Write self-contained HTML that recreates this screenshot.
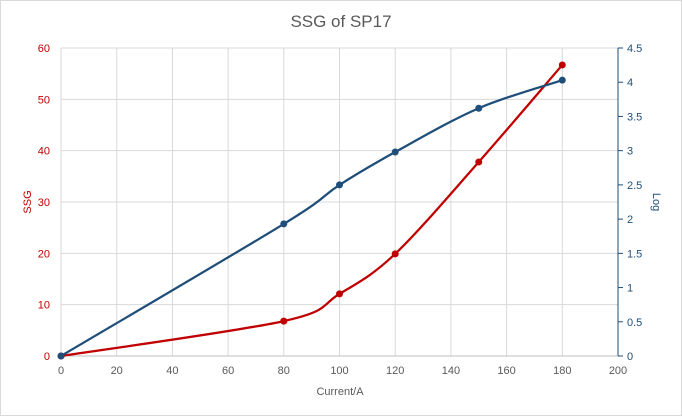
<!DOCTYPE html>
<html><head><meta charset="utf-8"><style>
html,body{margin:0;padding:0;background:#fff;}
svg{display:block;font-family:"Liberation Sans",sans-serif;}
</style></head><body>
<svg id="chart" width="682" height="416" viewBox="0 0 682 416">
<rect x="0.5" y="0.5" width="681" height="415" fill="#fff" stroke="#d9d9d9"/>
<text x="341" y="27" text-anchor="middle" font-size="17" fill="#595959">SSG of SP17</text>
<g id="grid"></g><g id="axes"></g><g id="series"></g>
<text x="340" y="395" text-anchor="middle" font-size="11" fill="#595959">Current/A</text>
<text transform="translate(31,202) rotate(-90)" text-anchor="middle" font-size="11" fill="#c00000">SSG</text>
<text transform="translate(653,202) rotate(90)" text-anchor="middle" font-size="11" fill="#1f4e79">Log</text>
</svg>
<script>
const xCats=[0,80,100,120,150,180];
const ssgValues=[0,6.8,12.1,19.9,37.8,56.7];
const logValues=[0,1.93,2.5,2.98,3.62,4.03];
const xTicks=[0,20,40,60,80,100,120,140,160,180,200];
const leftTicks=[0,10,20,30,40,50,60];
const rightTicks=[0,0.5,1,1.5,2,2.5,3,3.5,4,4.5];
const NS="http://www.w3.org/2000/svg";
const X0=61,X1=618,Y0=356,Y1=48;
const sx=v=>X0+(v-0)/200*(X1-X0);
const syL=v=>Y0-v/60*(Y0-Y1);
const syR=v=>Y0-v/4.5*(Y0-Y1);
function mk(t,a,p){const e=document.createElementNS(NS,t);for(const k in a)e.setAttribute(k,a[k]);p.appendChild(e);return e;}
const grid=document.getElementById('grid'),axes=document.getElementById('axes'),ser=document.getElementById('series');
xTicks.forEach(v=>{const l=mk('line',{x1:sx(v),x2:sx(v),y1:Y1,y2:Y0,stroke:'#d9d9d9'},grid);

const t=mk('text',{x:sx(v),y:Y0+18,'text-anchor':'middle','font-size':11,fill:'#595959'},axes);t.textContent=v;
});
leftTicks.forEach(v=>{const l=mk('line',{x1:X0,x2:X1,y1:syL(v),y2:syL(v),stroke:'#d9d9d9'},grid);

const t=mk('text',{x:X0-11,y:syL(v)+4,'text-anchor':'end','font-size':11,fill:'#c00000'},axes);t.textContent=v;
});
const xa=mk('line',{x1:X0,x2:X1,y1:Y0,y2:Y0,stroke:'#bfbfbf'},axes);

const ra=mk('line',{x1:X1,x2:X1,y1:Y1,y2:Y0,stroke:'#1f4e79'},axes);

rightTicks.forEach(v=>{const l=mk('line',{x1:X1,x2:X1+5,y1:syR(v),y2:syR(v),stroke:'#1f4e79'},axes);

const t=mk('text',{x:X1+9,y:syR(v)+4,'font-size':11,fill:'#1f4e79'},axes);t.textContent=v;
});
function smooth(pts){let d=`M${pts[0][0]},${pts[0][1]}`;const k=1/6;
for(let i=0;i<pts.length-1;i++){const p0=pts[i-1]||pts[i],p1=pts[i],p2=pts[i+1],p3=pts[i+2]||p2;
d+=` C${p1[0]+(p2[0]-p0[0])*k},${p1[1]+(p2[1]-p0[1])*k} ${p2[0]-(p3[0]-p1[0])*k},${p2[1]-(p3[1]-p1[1])*k} ${p2[0]},${p2[1]}`;}return d;}
function draw(vals,sy,color,name){const pts=xCats.map((c,i)=>[sx(c),sy(vals[i])]);
const p=mk('path',{d:smooth(pts),fill:'none',stroke:color,'stroke-width':2.25},ser);

pts.forEach(q=>{const c=mk('circle',{cx:q[0],cy:q[1],r:3.5,fill:color},ser);
});}
draw(ssgValues,syL,'#c00000','ssg');
draw(logValues,syR,'#1f4e79','log');
</script>
</body></html>
